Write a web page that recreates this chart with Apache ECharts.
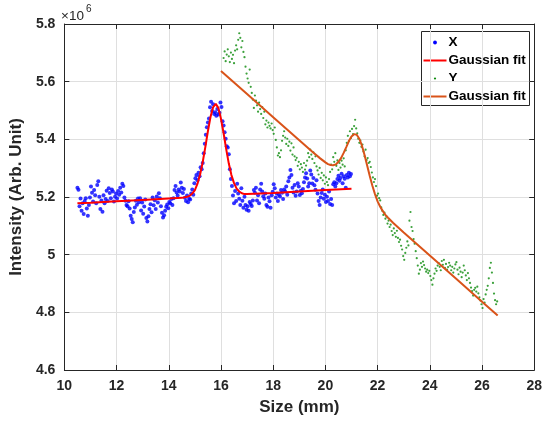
<!DOCTYPE html>
<html>
<head>
<meta charset="utf-8">
<script src="https://cdn.jsdelivr.net/npm/echarts@6/dist/echarts.min.js"></script>
<style>
html, body { margin: 0; padding: 0; background: #ffffff; }
#chart { width: 545px; height: 421px; }
</style>
</head>
<body>
<div id="chart"></div>
<script>
// Intensity profiles along the two scan directions, in units of 10^6.
// Samples are evenly spaced in size (mm), starting at the given position.
const xScanStart = 10.5;
const xScanStep = 0.04;
const xScan = [
  5.232, 5.225, 5.168, 5.195, 5.152, 5.178, 5.141, 5.186, 5.196, 5.160,
  5.135, 5.172, 5.198, 5.236, 5.215, 5.184, 5.224, 5.206, 5.178, 5.242,
  5.255, 5.201, 5.158, 5.188, 5.149, 5.206, 5.178, 5.193, 5.222, 5.186,
  5.230, 5.214, 5.196, 5.226, 5.219, 5.184, 5.201, 5.212, 5.195, 5.221,
  5.208, 5.232, 5.216, 5.246, 5.238, 5.198, 5.187, 5.172, 5.168, 5.185,
  5.160, 5.135, 5.124, 5.112, 5.148, 5.164, 5.187, 5.173, 5.195, 5.182,
  5.196, 5.153, 5.181, 5.142, 5.167, 5.191, 5.127, 5.115, 5.133, 5.158,
  5.175, 5.147, 5.198, 5.171, 5.189, 5.158, 5.202, 5.181, 5.213, 5.196,
  5.168, 5.145, 5.129, 5.137, 5.152, 5.166, 5.174, 5.161, 5.183, 5.178,
  5.193, 5.172, 5.196, 5.224, 5.238, 5.216, 5.205, 5.226, 5.219, 5.250,
  5.232, 5.214, 5.228, 5.197, 5.186, 5.205, 5.182, 5.194, 5.191, 5.212,
  5.226, 5.208, 5.248, 5.265, 5.276, 5.258, 5.284, 5.272, 5.303, 5.296,
  5.318, 5.352, 5.385, 5.416, 5.442, 5.458, 5.472, 5.511, 5.530, 5.498,
  5.522, 5.488, 5.494, 5.482, 5.505, 5.486, 5.492, 5.528, 5.512, 5.463,
  5.448, 5.425, 5.402, 5.376, 5.372, 5.348, 5.296, 5.262, 5.238, 5.205,
  5.178, 5.221, 5.186, 5.246, 5.212, 5.194, 5.172, 5.230, 5.187, 5.163,
  5.201, 5.172, 5.156, 5.168, 5.152, 5.183, 5.176, 5.169, 5.188, 5.224,
  5.215, 5.232, 5.188, 5.206, 5.178, 5.226, 5.246, 5.219, 5.203, 5.194,
  5.212, 5.172, 5.166, 5.198, 5.185, 5.163, 5.206, 5.218, 5.244, 5.230,
  5.198, 5.212, 5.186, 5.208, 5.202, 5.224, 5.215, 5.193, 5.226, 5.219,
  5.236, 5.208, 5.255, 5.268, 5.294, 5.276, 5.232, 5.216, 5.242, 5.204,
  5.219, 5.248, 5.236, 5.207, 5.222, 5.213, 5.228, 5.251, 5.268, 5.282,
  5.264, 5.236, 5.248, 5.292, 5.278, 5.247, 5.266, 5.241, 5.225, 5.258,
  5.212, 5.186, 5.172, 5.198, 5.214, 5.226, 5.194, 5.208, 5.183, 5.201,
  5.186, 5.219, 5.176, 5.193, 5.172, 5.244, 5.251, 5.236, 5.248, 5.262,
  5.274, 5.256, 5.266, 5.281, 5.248, 5.272, 5.263, 5.232, 5.276, 5.268,
  5.284, 5.272, 5.280
];

const yScanStart = 16.1;
const yScanStep = 0.04;
const yScan = [
  5.682, 5.705, 5.671, 5.694, 5.712, 5.688, 5.668, 5.701, 5.679, 5.693,
  5.664, 5.708, 5.726, 5.712, 5.745, 5.768, 5.752, 5.719, 5.741, 5.703,
  5.685, 5.652, 5.628, 5.611, 5.596, 5.642, 5.582, 5.561, 5.538, 5.509,
  5.552, 5.534, 5.518, 5.496, 5.527, 5.505, 5.488, 5.512, 5.474, 5.496,
  5.452, 5.465, 5.441, 5.458, 5.447, 5.438, 5.455, 5.432, 5.419, 5.441,
  5.398, 5.372, 5.344, 5.352, 5.338, 5.362, 5.395, 5.412, 5.428, 5.406,
  5.384, 5.402, 5.377, 5.392, 5.361, 5.386, 5.347, 5.372, 5.341, 5.328,
  5.336, 5.308, 5.322, 5.296, 5.314, 5.302, 5.287, 5.318, 5.295, 5.309,
  5.326, 5.352, 5.338, 5.364, 5.347, 5.332, 5.355, 5.318, 5.341, 5.306,
  5.292, 5.278, 5.301, 5.266, 5.284, 5.258, 5.275, 5.246, 5.268, 5.252,
  5.241, 5.262, 5.287, 5.312, 5.296, 5.338, 5.322, 5.352, 5.308, 5.327,
  5.294, 5.318, 5.302, 5.326, 5.312, 5.334, 5.306, 5.362, 5.388, 5.412,
  5.394, 5.428, 5.405, 5.436, 5.418, 5.446, 5.468, 5.438, 5.421, 5.402,
  5.388, 5.396, 5.374, 5.382, 5.358, 5.341, 5.364, 5.328, 5.335, 5.318,
  5.322, 5.304, 5.285, 5.268, 5.252, 5.262, 5.238, 5.205, 5.212, 5.196,
  5.188, 5.164, 5.152, 5.138, 5.146, 5.125, 5.132, 5.108, 5.118, 5.096,
  5.104, 5.082, 5.068, 5.091, 5.075, 5.062, 5.083, 5.058, 5.044, 5.052,
  5.031, 5.018, 4.995, 4.982, 5.006, 5.024, 5.046, 5.032, 5.118, 5.148,
  5.096, 5.082, 5.054, 5.038, 5.012, 4.988, 4.962, 4.934, 4.948, 4.971,
  4.958, 4.976, 4.964, 4.952, 4.941, 4.948, 4.936, 4.944, 4.926, 4.912,
  4.896, 4.918, 4.934, 4.952, 4.944, 4.962, 4.971, 4.958, 4.946, 4.978,
  4.965, 4.982, 4.954, 4.968, 4.948, 4.957, 4.972, 4.962, 4.946, 4.958,
  4.938, 4.952, 4.966, 4.974, 4.948, 4.932, 4.955, 4.941, 4.922, 4.938,
  4.962, 4.946, 4.928, 4.912, 4.936, 4.918, 4.902, 4.886, 4.874, 4.858,
  4.878, 4.885, 4.872, 4.889, 4.866, 4.852, 4.841, 4.828, 4.815, 4.846,
  4.834, 4.862, 4.878, 4.892, 4.918, 4.954, 4.972, 4.938, 4.902, 4.865,
  4.842, 4.828, 4.838
];

// Fitted curves (peak on a sloped background), sampled along size
const xFitPos = [10.5, 11, 12, 13, 14, 14.5, 14.7, 14.8, 14.9, 15.0, 15.1, 15.2, 15.3, 15.4, 15.5,
  15.6, 15.7, 15.8, 15.9, 16.0, 16.1, 16.2, 16.3, 16.4, 16.5, 16.6, 16.7, 16.8, 16.9, 17.0,
  17.5, 18, 19, 20, 21];
const xFitVal = [5.178, 5.180, 5.185, 5.190, 5.195, 5.197, 5.201, 5.204, 5.212, 5.224, 5.246, 5.278, 5.321, 5.373, 5.429,
  5.478, 5.512, 5.523, 5.509, 5.471, 5.421, 5.366, 5.316, 5.276, 5.248, 5.229, 5.219, 5.213, 5.210, 5.210,
  5.212, 5.214, 5.219, 5.224, 5.229];

const yFitPos = [16, 17, 18, 19, 19.5, 19.8, 20.0, 20.1, 20.2, 20.3, 20.4, 20.5, 20.6, 20.7, 20.8, 20.9,
  21.0, 21.1, 21.2, 21.3, 21.4, 21.5, 21.6, 21.7, 21.8, 21.9, 22.0, 22.1, 22.2, 22.3, 22.4, 22.6,
  23, 24, 25, 26, 26.6];
const yFitVal = [5.637, 5.557, 5.477, 5.397, 5.357, 5.334, 5.320, 5.314, 5.311, 5.310, 5.313, 5.322, 5.335, 5.353, 5.373, 5.394,
  5.410, 5.418, 5.416, 5.402, 5.378, 5.346, 5.309, 5.273, 5.239, 5.210, 5.185, 5.166, 5.151, 5.138, 5.128, 5.110,
  5.077, 4.997, 4.917, 4.837, 4.789];

const sizeMin = 10, sizeMax = 28, sizeStep = 2;
const intensityMin = 4.6, intensityMax = 5.8, intensityStep = 0.2;

const FONT = '"Liberation Sans", Arial, Helvetica, sans-serif';
const INK = '#262626';
const GRID = '#dfdfdf';

function evenlySpaced(start, step, values) {
  return values.map((v, i) => [+(start + i * step).toFixed(3), v]);
}
function paired(xs, ys) {
  return xs.map((x, i) => [x, ys[i]]);
}

const chart = echarts.init(document.getElementById('chart'), null, { renderer: 'canvas' });

const axisBase = {
  axisLine: { show: true, onZero: false, lineStyle: { color: INK, width: 1 } },
  axisTick: { show: true, inside: true, length: 5, lineStyle: { color: INK, width: 1 } },
  splitLine: { show: false },
  axisLabel: { show: false }
};

const option = {
  animation: false,
  backgroundColor: '#ffffff',
  grid: { left: 60.5, right: 10, top: 24, bottom: 50 },
  xAxis: [
    Object.assign({}, axisBase, {
      type: 'value', position: 'bottom', min: sizeMin, max: sizeMax, interval: sizeStep,
      splitLine: { show: true, lineStyle: { color: GRID, width: 1 } },
      axisLabel: { show: true, margin: 9, color: INK, fontFamily: FONT, fontWeight: 'bold', fontSize: 14 },
      name: 'Size (mm)', nameLocation: 'middle', nameGap: 29,
      nameTextStyle: { color: INK, fontFamily: FONT, fontWeight: 'bold', fontSize: 17 }
    }),
    Object.assign({}, axisBase, {
      type: 'value', position: 'top', min: sizeMin, max: sizeMax, interval: sizeStep
    })
  ],
  yAxis: [
    Object.assign({}, axisBase, {
      type: 'value', position: 'left', min: intensityMin, max: intensityMax, interval: intensityStep,
      splitLine: { show: true, lineStyle: { color: GRID, width: 1 } },
      axisLabel: {
        show: true, margin: 9, color: INK, fontFamily: FONT, fontWeight: 'bold', fontSize: 14,
        formatter: v => String(+v.toFixed(1))
      },
      name: 'Intensity (Arb. Unit)', nameLocation: 'middle', nameGap: 31, nameRotate: 90,
      nameTextStyle: { color: INK, fontFamily: FONT, fontWeight: 'bold', fontSize: 17 }
    }),
    Object.assign({}, axisBase, {
      type: 'value', position: 'right', min: intensityMin, max: intensityMax, interval: intensityStep
    })
  ],
  series: [
    {
      name: 'X', type: 'scatter', data: evenlySpaced(xScanStart, xScanStep, xScan),
      symbol: 'circle', symbolSize: 4, itemStyle: { color: '#0000ff' }, silent: true, z: 2
    },
    {
      name: 'Gaussian fit', type: 'line', data: paired(xFitPos, xFitVal),
      showSymbol: false, smooth: false, lineStyle: { color: '#ff0000', width: 2 }, silent: true, z: 3
    },
    {
      name: 'Y', type: 'scatter', data: evenlySpaced(yScanStart, yScanStep, yScan),
      symbol: 'circle', symbolSize: 2.2, itemStyle: { color: '#0a8a0a' }, silent: true, z: 4
    },
    {
      name: 'Gaussian fit ', type: 'line', data: paired(yFitPos, yFitVal),
      showSymbol: false, smooth: false, lineStyle: { color: '#d95319', width: 2 }, silent: true, z: 5
    }
  ],
  graphic: [
    // exponent label above the intensity axis
    { type: 'text', left: 61, top: 9, style: { text: '×10', font: '13.5px ' + FONT, fill: INK } },
    { type: 'text', left: 86, top: 4, style: { text: '6', font: '10px ' + FONT, fill: INK } },
    // legend box
    {
      type: 'group', left: 421, top: 31, children: [
        { type: 'rect', shape: { x: 0, y: 0, width: 108, height: 74 }, style: { fill: '#ffffff', stroke: INK, lineWidth: 1 } },
        { type: 'circle', shape: { cx: 13.5, cy: 11, r: 1.9 }, style: { fill: '#0000ff' } },
        { type: 'text', x: 27, y: 11, style: { text: 'X', font: 'bold 13.5px ' + FONT, fill: '#000', verticalAlign: 'middle' } },
        { type: 'line', shape: { x1: 2, y1: 29, x2: 25, y2: 29 }, style: { stroke: '#ff0000', lineWidth: 2 } },
        { type: 'text', x: 27, y: 29, style: { text: 'Gaussian fit', font: 'bold 13.5px ' + FONT, fill: '#000', verticalAlign: 'middle' } },
        { type: 'circle', shape: { cx: 13.5, cy: 47, r: 1.1 }, style: { fill: '#0a8a0a' } },
        { type: 'text', x: 27, y: 47, style: { text: 'Y', font: 'bold 13.5px ' + FONT, fill: '#000', verticalAlign: 'middle' } },
        { type: 'line', shape: { x1: 2, y1: 65, x2: 25, y2: 65 }, style: { stroke: '#d95319', lineWidth: 2 } },
        { type: 'text', x: 27, y: 65, style: { text: 'Gaussian fit', font: 'bold 13.5px ' + FONT, fill: '#000', verticalAlign: 'middle' } }
      ]
    }
  ]
};

chart.setOption(option);
</script>
</body>
</html>
